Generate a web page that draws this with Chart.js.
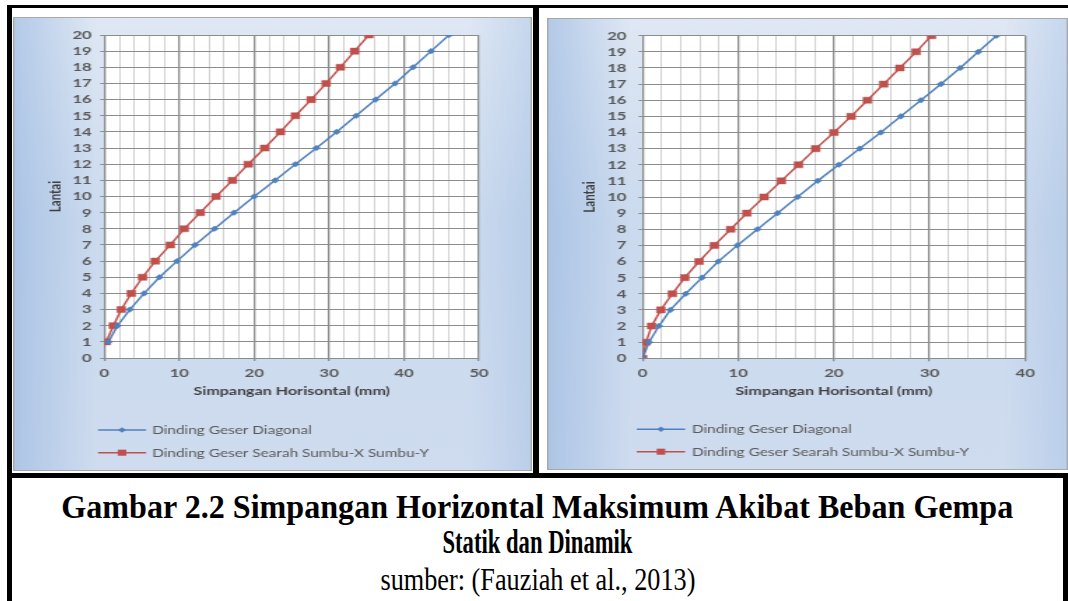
<!DOCTYPE html>
<html>
<head>
<meta charset="utf-8">
<script src="https://cdn.jsdelivr.net/npm/chart.js@4/dist/chart.umd.min.js"></script>
<style>
  html, body { margin: 0; padding: 0; background: #fff; }
  body { width: 1068px; height: 601px; position: relative; overflow: hidden; }
  .bar { position: absolute; background: #000; }
  .panel { position: absolute; transform-origin: 0 0; }
  .panel canvas { display: block; }
  .cap { position: absolute; left: 12px; width: 1051px; text-align: center; color: #000;
         font-family: "Liberation Serif", "Times New Roman", serif; white-space: nowrap; }
  .cap span { display: inline-block; transform-origin: 50% 50%; }
</style>
</head>
<body>

<!-- black frame of the figure -->
<div class="bar" style="left:7px;top:5px;width:1061px;height:3px"></div>
<div class="bar" style="left:7px;top:5px;width:5px;height:596px"></div>
<div class="bar" style="left:533px;top:5px;width:6px;height:473px"></div>
<div class="bar" style="left:7px;top:473px;width:1061px;height:5px"></div>
<div class="bar" style="left:1063px;top:473px;width:5px;height:128px"></div>

<div class="panel" id="panelA" style="left:13px;top:17px;transform:scaleX(1.39892)">
  <canvas id="chartA" width="371" height="454" style="width:371px;height:454px"></canvas>
</div>
<div class="panel" id="panelB" style="left:547px;top:18px;transform:scaleX(1.40054)">
  <canvas id="chartB" width="372" height="452" style="width:372px;height:452px"></canvas>
</div>

<div class="cap" style="top:488px;font-size:33px;line-height:38px;font-weight:bold"><span data-w="952">Gambar 2.2 Simpangan Horizontal Maksimum Akibat Beban Gempa</span></div>
<div class="cap" style="top:523px;font-size:33px;line-height:38px;font-weight:bold"><span data-w="190">Statik dan Dinamik</span></div>
<div class="cap" style="top:561px;font-size:31px;line-height:38px"><span data-w="315">sumber: (Fauziah et al., 2013)</span></div>

<script>
// Storey numbers and horizontal drift (mm) — static analysis
const floorsStatic = [1, 2, 3, 4, 5, 6, 7, 8, 9, 10, 11, 12, 13, 14, 15, 16, 17, 18, 19, 20];
const diagonalStatic = [0.55, 1.75, 3.4, 5.3, 7.35, 9.7, 12.1, 14.7, 17.3, 20.0, 22.8, 25.5, 28.3, 31.0, 33.6, 36.2, 38.8, 41.2, 43.6, 46.0];
const searahStatic = [0.25, 1.2, 2.25, 3.6, 5.1, 6.8, 8.8, 10.65, 12.8, 14.9, 17.1, 19.2, 21.4, 23.5, 25.5, 27.6, 29.6, 31.5, 33.4, 35.3];

// Storey numbers and horizontal drift (mm) — dynamic analysis
const floorsDynamic = [0, 1, 2, 3, 4, 5, 6, 7, 8, 9, 10, 11, 12, 13, 14, 15, 16, 17, 18, 19, 20];
const diagonalDynamic = [0, 0.66, 1.7, 2.9, 4.5, 6.2, 7.9, 9.9, 12.0, 14.1, 16.2, 18.3, 20.5, 22.7, 24.9, 27.0, 29.1, 31.2, 33.2, 35.1, 37.0];
const searahDynamic = [0, 0.35, 0.94, 1.9, 3.1, 4.4, 5.9, 7.5, 9.2, 10.9, 12.7, 14.5, 16.3, 18.1, 20.0, 21.8, 23.5, 25.2, 26.9, 28.6, 30.2];

const seriesNames = ['Dinding Geser Diagonal', 'Dinding Geser Searah Sumbu-X Sumbu-Y'];
const xTickLabelsStatic = [0, 10, 20, 30, 40, 50];
const xTickLabelsDynamic = [0, 10, 20, 30, 40];
const yTickLabels = [0, 1, 2, 3, 4, 5, 6, 7, 8, 9, 10, 11, 12, 13, 14, 15, 16, 17, 18, 19, 20];
const xTitle = 'Simpangan Horisontal (mm)';
const yTitle = 'Lantai';

const BLUE = '#4f81bd';
const RED = '#c0504d';
const MAJOR = '#8c8c8c';
const MINOR = '#cdcdcd';
const TICK_FONT = { family: 'Lato, "DejaVu Sans", sans-serif', size: 12, weight: 'bold' };
const TITLE_FONT = { family: 'Lato, "DejaVu Sans", sans-serif', size: 11.5, weight: 'bold' };

// panel fill, border and the white plot area
const panelPlugin = {
  id: 'panelFill',
  beforeDraw(chart) {
    const { ctx, width, height, chartArea: a } = chart;
    ctx.save();
    const v = ctx.createLinearGradient(0, 0, 0, height);
    v.addColorStop(0, '#dfe8f4');
    v.addColorStop(0.45, '#cbdaee');
    v.addColorStop(1, '#cfdcef');
    ctx.fillStyle = v;
    ctx.fillRect(0, 0, width, height);
    const h = ctx.createLinearGradient(0, 0, width, 0);
    h.addColorStop(0, 'rgba(150,182,224,0.6)');
    h.addColorStop(0.16, 'rgba(150,182,224,0)');
    h.addColorStop(0.88, 'rgba(150,182,224,0)');
    h.addColorStop(1, 'rgba(150,182,224,0.35)');
    ctx.fillStyle = h;
    ctx.fillRect(0, 0, width, height);
    ctx.strokeStyle = '#a8a8a8';
    ctx.lineWidth = 1;
    ctx.strokeRect(0.5, 0.5, width - 1, height - 1);
    ctx.fillStyle = '#ffffff';
    ctx.fillRect(a.left, a.top, a.right - a.left, a.bottom - a.top);
    ctx.restore();
  }
};

// vertical legend below the axis title
const legendPlugin = {
  id: 'stackedLegend',
  afterDraw(chart, args, opts) {
    const { ctx } = chart;
    ctx.save();
    chart.data.datasets.forEach((ds, i) => {
      const y = opts.rows[i];
      ctx.strokeStyle = ds.borderColor;
      ctx.lineWidth = ds.borderWidth;
      ctx.beginPath();
      ctx.moveTo(opts.lineFrom, y);
      ctx.lineTo(opts.lineTo, y);
      ctx.stroke();
      const cx = (opts.lineFrom + opts.lineTo) / 2;
      const r = ds.pointRadius;
      ctx.fillStyle = ds.pointBackgroundColor;
      ctx.beginPath();
      if (ds.pointStyle === 'rect') {
        const s = r * Math.SQRT1_2;
        ctx.rect(cx - s, y - s, 2 * s, 2 * s);
      } else {
        ctx.moveTo(cx, y - r); ctx.lineTo(cx + r, y); ctx.lineTo(cx, y + r); ctx.lineTo(cx - r, y);
        ctx.closePath();
      }
      ctx.fill();
      ctx.fillStyle = '#595959';
      ctx.font = '11px Lato, "DejaVu Sans", sans-serif';
      ctx.textBaseline = 'middle';
      ctx.textAlign = 'left';
      ctx.fillText(ds.label, opts.textX, y + 0.5);
    });
    ctx.restore();
  }
};

function points(xs, ys) {
  return xs.map((x, i) => ({ x: x, y: ys[i] }));
}

function makeChart(id, floors, diag, searah, xLabels, g) {
  const xMax = xLabels[xLabels.length - 1];
  return new Chart(document.getElementById(id), {
    type: 'scatter',
    data: {
      datasets: [
        { label: seriesNames[0], data: points(diag, floors), showLine: true,
          borderColor: BLUE, backgroundColor: BLUE, borderWidth: 1.5,
          pointStyle: 'rectRot', pointRadius: 2.8, pointBorderWidth: 0.5,
          pointBackgroundColor: BLUE, pointBorderColor: BLUE },
        { label: seriesNames[1], data: points(searah, floors), showLine: true,
          borderColor: RED, backgroundColor: RED, borderWidth: 1.5,
          pointStyle: 'rect', pointRadius: 4.3, pointBorderWidth: 0.5,
          pointBackgroundColor: RED, pointBorderColor: RED }
      ]
    },
    options: {
      responsive: false,
      animation: false,
      events: [],
      layout: { padding: { left: g.padL, top: g.top, right: g.padR, bottom: g.padB } },
      plugins: {
        legend: { display: false },
        tooltip: { enabled: false },
        stackedLegend: g.legend
      },
      scales: {
        x: {
          type: 'linear', min: 0, max: xMax,
          afterFit(s) { s.height = g.xAxisH; },
          ticks: { stepSize: 2, autoSkip: false, maxRotation: 0, padding: 5,
                   color: '#595959', font: TICK_FONT,
                   callback: v => (xLabels.includes(v) ? String(v) : '') },
          grid: {
            color: c => (c.tick && c.tick.value % 10 === 0 ? MAJOR : MINOR),
            lineWidth: c => (c.tick && c.tick.value % 10 === 0 ? 1.3 : 0.9),
            tickColor: c => (c.tick && c.tick.value % 10 === 0 ? MAJOR : 'rgba(0,0,0,0)'),
            tickLength: 3
          },
          border: { color: MAJOR, width: 1 },
          title: { display: true, text: xTitle, color: '#404040', padding: 0, font: TITLE_FONT }
        },
        y: {
          type: 'linear', min: 0, max: 20,
          afterFit(s) { s.width = g.yAxisW; },
          afterBuildTicks(s) { s.ticks = yTickLabels.map(v => ({ value: v })); },
          ticks: { stepSize: 1, autoSkip: false, padding: g.yPad, color: '#595959', font: TICK_FONT },
          grid: { color: MAJOR, lineWidth: 1, tickColor: MAJOR, tickLength: 3 },
          border: { color: MAJOR, width: 1 },
          title: { display: true, text: yTitle, color: '#404040', padding: 0, font: TITLE_FONT }
        }
      }
    },
    plugins: [panelPlugin, legendPlugin]
  });
}

makeChart('chartA', floorsStatic, diagonalStatic, searahStatic, xTickLabelsStatic, {
  padL: 23.4, top: 18, padR: 37.9, padB: 72.4,
  yAxisW: 41.9, xAxisH: 40.6, yPad: 6,
  legend: { lineFrom: 60.8, lineTo: 95.1, textX: 99.4, rows: [413, 435.7] }
});

makeChart('chartB', floorsDynamic, diagonalDynamic, searahDynamic, xTickLabelsDynamic, {
  padL: 23.4, top: 17.7, padR: 30.6, padB: 71.4,
  yAxisW: 44.9, xAxisH: 40.3, yPad: 8.5,
  legend: { lineFrom: 64.1, lineTo: 98.6, textX: 103.4, rows: [411.3, 433.7] }
});

// caption lines are set to their line widths
document.querySelectorAll('.cap span').forEach(s => {
  const target = Number(s.dataset.w);
  const natural = s.getBoundingClientRect().width;
  if (natural > 0) s.style.transform = 'scaleX(' + (target / natural).toFixed(4) + ')';
});
</script>
</body>
</html>
